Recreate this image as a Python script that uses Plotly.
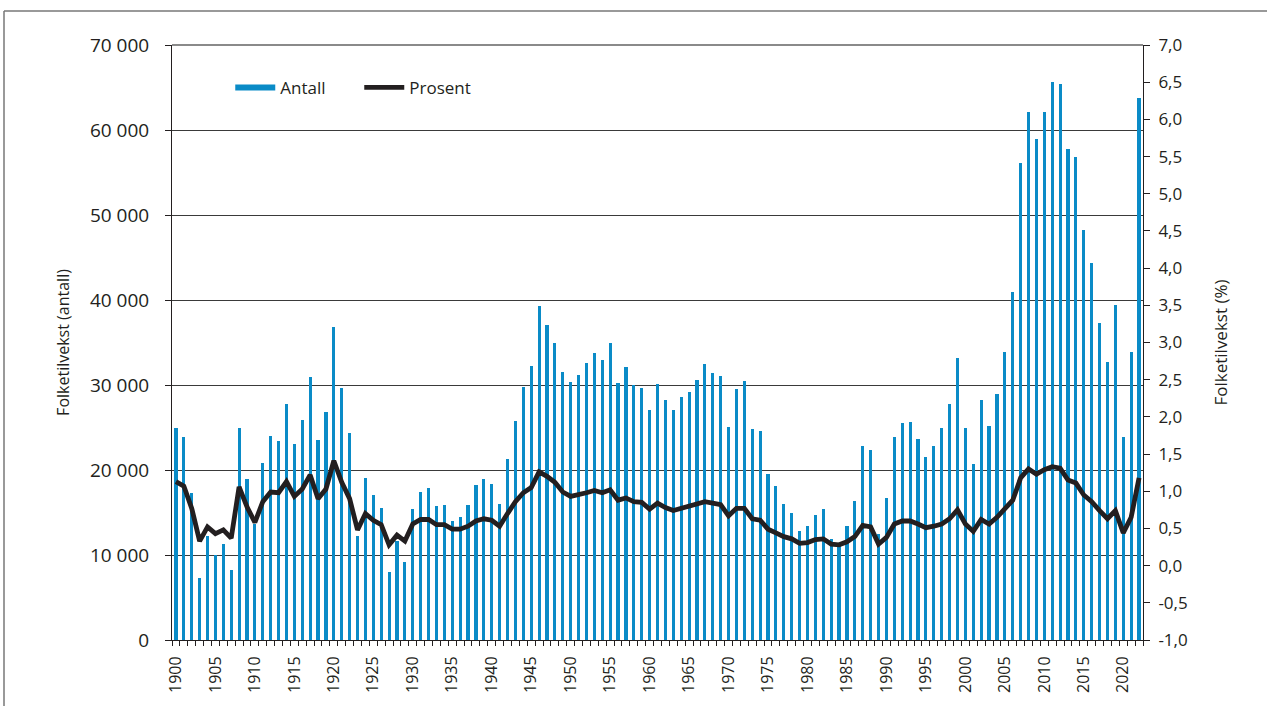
import plotly.graph_objects as go

years = list(range(1900, 2023))

antall = [
    25000, 23850, 17330, 7250, 12240, 9960, 11250, 8240, 24980, 18940,
    13600, 20780, 24000, 23410, 27720, 23020, 25840, 30940, 23490, 26820,
    36780, 29650, 24310, 12280, 19020, 17060, 15530, 7960, 11690, 9180,
    15410, 17410, 17840, 15730, 15920, 14040, 14510, 15840, 18240, 18980,
    18350, 16000, 21250, 25800, 29730, 32200, 39290, 37060, 34980, 31490,
    30390, 31180, 32590, 33760, 32980, 34940, 30240, 32120, 29960, 29690,
    27060, 30080, 28200, 27060, 28550, 29140, 30590, 32510, 31450, 31060,
    25100, 29490, 30470, 24780, 24550, 19570, 18120, 16000, 14940, 12780,
    13450, 14710, 15410, 11840, 11100, 13370, 16350, 22820, 22390, 12430,
    16710, 23840, 25530, 25650, 23610, 21570, 22785, 24980, 27770, 33220,
    24980, 20680, 28230, 25210, 28960, 33900, 40950, 56090, 62130, 58970,
    62130, 65650, 65420, 57790, 56780, 48270, 44380, 37330, 32670, 39440,
    23840, 33900, 63780,
]

prosent = [
    1.13, 1.07, 0.77, 0.33, 0.52, 0.43, 0.48, 0.37, 1.06, 0.79,
    0.58, 0.86, 0.99, 0.98, 1.13, 0.93, 1.03, 1.22, 0.90, 1.03,
    1.41, 1.12, 0.90, 0.48, 0.70, 0.61, 0.55, 0.28, 0.41, 0.33,
    0.56, 0.62, 0.62, 0.55, 0.55, 0.49, 0.49, 0.53, 0.60, 0.63,
    0.61, 0.53, 0.70, 0.86, 0.98, 1.05, 1.26, 1.20, 1.12, 0.99,
    0.93, 0.95, 0.98, 1.01, 0.98, 1.02, 0.88, 0.91, 0.86, 0.85,
    0.76, 0.84, 0.78, 0.74, 0.77, 0.79, 0.82, 0.86, 0.84, 0.82,
    0.67, 0.77, 0.77, 0.63, 0.61, 0.49, 0.44, 0.39, 0.36, 0.30,
    0.31, 0.35, 0.36, 0.29, 0.28, 0.32, 0.39, 0.54, 0.52, 0.29,
    0.38, 0.56, 0.60, 0.60, 0.56, 0.51, 0.53, 0.56, 0.63, 0.75,
    0.56, 0.46, 0.62, 0.56, 0.65, 0.76, 0.88, 1.18, 1.30, 1.23,
    1.29, 1.33, 1.31, 1.15, 1.11, 0.95, 0.86, 0.74, 0.63, 0.74,
    0.44, 0.65, 1.18,
]

left_ticks = [0, 10000, 20000, 30000, 40000, 50000, 60000, 70000]
left_labels = ["0", "10 000", "20 000", "30 000", "40 000", "50 000", "60 000", "70 000"]
right_ticks = [-1.0, -0.5, 0.0, 0.5, 1.0, 1.5, 2.0, 2.5, 3.0, 3.5, 4.0, 4.5, 5.0, 5.5, 6.0, 6.5, 7.0]
right_labels = ["-1,0", "-0,5", "0,0", "0,5", "1,0", "1,5", "2,0", "2,5", "3,0", "3,5",
                "4,0", "4,5", "5,0", "5,5", "6,0", "6,5", "7,0"]
x_ticks = list(range(1900, 2021, 5))

BLUE = "#0a8bc7"
INK = "#231f20"
FONT = "Open Sans"

L, R, T, B = 172, 124, 45, 66
PW, PH = 1267 - L - R, 706 - T - B

fig = go.Figure()
fig.add_trace(go.Bar(
    x=years, y=antall, name="Antall", marker=dict(color=BLUE, line=dict(width=0)),
    width=0.4, showlegend=False, yaxis="y",
))
# legend swatch for the bars (wide rectangle look)
fig.add_trace(go.Scatter(
    x=[None], y=[None], mode="lines", name="Antall",
    line=dict(color=BLUE, width=6), yaxis="y",
))
fig.add_trace(go.Scatter(
    x=years, y=prosent, mode="lines", name="Prosent",
    line=dict(color=INK, width=4.8), yaxis="y2",
))

fig.update_layout(
    width=1267, height=706,
    margin=dict(l=L, r=R, t=T, b=B),
    paper_bgcolor="white", plot_bgcolor="white",
    font=dict(family=FONT, size=16, color=INK),
    bargap=0,
    showlegend=True,
    legend=dict(
        orientation="h", x=0.06, y=0.928, xanchor="left", yanchor="middle",
        bgcolor="rgba(0,0,0,0)", font=dict(size=17, color=INK),
        entrywidth=74, entrywidthmode="pixels", itemwidth=40,
    ),
    xaxis=dict(
        range=[1899.5, 2022.5], tickmode="array", tickvals=x_ticks,
        ticktext=[str(v) for v in x_ticks], tickangle=-90,
        ticks="", showgrid=False, zeroline=False, automargin=False,
        showline=True, linecolor=INK, linewidth=1,
        tickfont=dict(size=16, color=INK), ticklabelstandoff=9,
        minor=dict(dtick=1, tick0=1899.5, ticks="outside", ticklen=5,
                   tickcolor=INK, tickwidth=1, showgrid=False),
    ),
    yaxis=dict(
        range=[0, 70000], tickmode="array", tickvals=left_ticks, ticktext=left_labels,
        showgrid=True, gridcolor="#3a3a3a", gridwidth=1, zeroline=False,
        showline=True, linecolor=INK, linewidth=1, automargin=False,
        ticks="outside", ticklen=6, tickcolor=INK, ticklabelstandoff=12,
        tickfont=dict(size=19, color=INK),
        title=dict(text="Folketilvekst (antall)", font=dict(size=16, color=INK), standoff=16),
    ),
    yaxis2=dict(
        range=[-1, 7], overlaying="y", side="right", anchor="x",
        tickmode="array", tickvals=right_ticks, ticktext=right_labels,
        showgrid=False, zeroline=False, automargin=False,
        showline=True, linecolor=INK, linewidth=1,
        ticks="outside", ticklen=6, tickcolor=INK, ticklabelstandoff=5,
        tickfont=dict(size=17, color=INK),
        title=dict(text="Folketilvekst (%)", font=dict(size=17, color=INK), standoff=28),
    ),
    shapes=[
        # outer frame (top and left border)
        dict(type="line", xref="paper", yref="paper",
             x0=(4 - L) / PW, x1=(1267 - L) / PW,
             y0=(T + PH - 11) / PH, y1=(T + PH - 11) / PH,
             line=dict(color="#777777", width=1.5)),
        dict(type="line", xref="paper", yref="paper",
             x0=(4 - L) / PW, x1=(4 - L) / PW,
             y0=(T + PH - 11) / PH, y1=(T + PH - 706) / PH,
             line=dict(color="#777777", width=1.5)),
        # top line at 70 000
        dict(type="line", xref="paper", yref="paper", x0=0, x1=1, y0=1, y1=1,
             line=dict(color="#8a8a8a", width=2)),
    ],
)

fig.write_html("out.html", config={"displayModeBar": False},
               post_script="document.body.style.margin='0';")
